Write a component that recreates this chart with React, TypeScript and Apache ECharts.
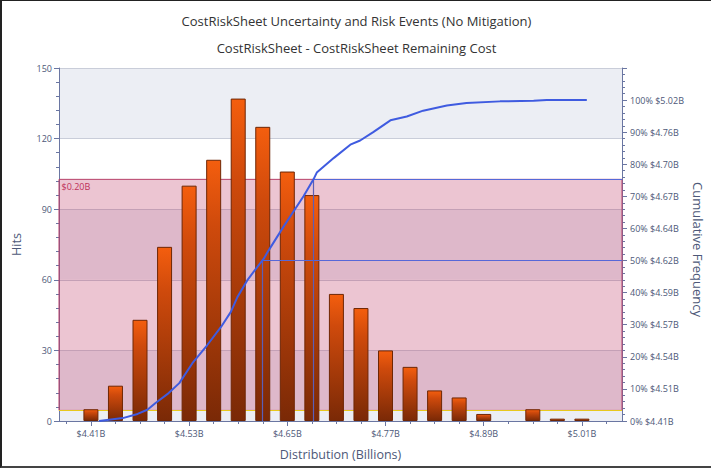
import React, { useEffect, useRef } from "react";
import * as echarts from "echarts";

// Histogram bins (billions) and hit counts per bin (1000 iterations)
const binCenters = [4.41, 4.44, 4.47, 4.5, 4.53, 4.56, 4.59, 4.62, 4.65, 4.68, 4.71, 4.74, 4.77, 4.8, 4.83, 4.86, 4.89, 4.92, 4.95, 4.98, 5.01];
const hits = [5, 15, 43, 74, 100, 111, 137, 125, 106, 96, 54, 48, 30, 23, 13, 10, 3, 0, 5, 1, 1];

// Cumulative frequency curve: [value in billions, percent]
const cumulative: [number, number][] = [
  [4.42, 0], [4.449, 0.9], [4.467, 2.2], [4.479, 3.5], [4.489, 5.6], [4.505, 8.7],
  [4.518, 11.8], [4.534, 18], [4.552, 23.6], [4.569, 29.3], [4.581, 34], [4.589, 38.6],
  [4.601, 43.8], [4.613, 47.9], [4.621, 50.5], [4.627, 53.1], [4.646, 60.8], [4.67, 70.1],
  [4.682, 75.3], [4.686, 77.4], [4.707, 82], [4.727, 86.1], [4.739, 87.4], [4.755, 90],
  [4.776, 93.7], [4.796, 94.9], [4.816, 96.7], [4.845, 98.3], [4.869, 99.1], [4.91, 99.6],
  [4.951, 99.8], [4.967, 100], [5.016, 100],
];

// Axis tick labels
const xTickValues = [4.41, 4.53, 4.65, 4.77, 4.89, 5.01];
const percentTicks = [0, 10, 20, 30, 40, 50, 60, 70, 80, 90, 100];
const percentileValues = ["$4.41B", "$4.51B", "$4.54B", "$4.57B", "$4.59B", "$4.62B", "$4.64B", "$4.67B", "$4.70B", "$4.76B", "$5.02B"];

// Percentile markers and contingency band
const p50 = { value: 4.619, pct: 50 };
const p75 = { value: 4.682, pct: 75.3 };
const baseEstimatePct = 3.3;
const contingencyLabel = "$0.20B";

const X_MIN = 4.371;
const X_MAX = 5.059;

const FONT = "'Open Sans', 'Noto Sans', sans-serif";
const AXIS_TEXT = "#4d5878";
const AXIS_LINE = "#6a76a2";

export default function App() {
  const ref = useRef<HTMLDivElement>(null);

  useEffect(() => {
    if (!ref.current) return;
    const chart = echarts.init(ref.current, undefined, { renderer: "svg" });

    const minorXTicks: number[] = [];
    for (let i = -1; i <= 22; i++) {
      const v = Math.round((4.41 + i * 0.03) * 1000) / 1000;
      if (v > X_MIN && v < X_MAX) minorXTicks.push(v);
    }

    const barGradient = new echarts.graphic.LinearGradient(0, 0, 0, 1, [
      { offset: 0, color: "#f45e0e" },
      { offset: 0.25, color: "#cf4a0c" },
      { offset: 1, color: "#7a2906" },
    ]);

    chart.setOption({
      animation: false,
      backgroundColor: "#ffffff",
      textStyle: { fontFamily: FONT },
      title: [
        {
          text: "CostRiskSheet Uncertainty and Risk Events (No Mitigation)",
          left: "center",
          top: 8,
          textStyle: { fontSize: 13, fontWeight: "normal", color: "#333333", fontFamily: FONT },
        },
        {
          text: "CostRiskSheet - CostRiskSheet Remaining Cost",
          left: "center",
          top: 35,
          textStyle: { fontSize: 13, fontWeight: "normal", color: "#333333", fontFamily: FONT },
        },
      ],
      grid: { left: 57, right: 89, top: 67, bottom: 45, containLabel: false },
      xAxis: [
        {
          type: "value",
          min: X_MIN,
          max: X_MAX,
          name: "Distribution (Billions)",
          nameLocation: "middle",
          nameGap: 27,
          nameTextStyle: { color: AXIS_TEXT, fontSize: 12.5 },
          axisLine: { show: true, lineStyle: { color: AXIS_LINE } },
          axisTick: { show: true, length: 5, customValues: xTickValues, lineStyle: { color: AXIS_LINE } },
          axisLabel: {
            customValues: xTickValues,
            color: AXIS_TEXT,
            fontSize: 9,
            margin: 8,
            formatter: (v: number) => "$" + v.toFixed(2) + "B",
          },
          splitLine: { show: false },
        },
        {
          type: "value",
          min: X_MIN,
          max: X_MAX,
          position: "bottom",
          axisLine: { show: false },
          axisTick: { show: true, length: 3, customValues: minorXTicks, lineStyle: { color: AXIS_LINE } },
          axisLabel: { show: false },
          splitLine: { show: false },
        },
      ],
      yAxis: [
        {
          type: "value",
          min: 0,
          max: 150,
          interval: 30,
          name: "Hits",
          nameLocation: "middle",
          nameGap: 36,
          nameTextStyle: { color: AXIS_TEXT, fontSize: 12.5 },
          axisLine: { show: true, lineStyle: { color: AXIS_LINE } },
          axisTick: { show: true, length: 5, lineStyle: { color: AXIS_LINE } },
          minorTick: { show: true, splitNumber: 5, length: 3, lineStyle: { color: AXIS_LINE } },
          axisLabel: { color: AXIS_TEXT, fontSize: 9, margin: 7 },
          splitLine: { show: true, lineStyle: { color: "#c9cdd9", width: 1 } },
          splitArea: { show: true, areaStyle: { color: ["#eceef4", "#ffffff"] } },
        },
        {
          type: "value",
          min: 0,
          max: 110,
          interval: 10,
          position: "right",
          axisLine: { show: true, lineStyle: { color: AXIS_LINE } },
          axisTick: { show: true, length: 5, lineStyle: { color: AXIS_LINE } },
          minorTick: { show: true, splitNumber: 5, length: 3, lineStyle: { color: AXIS_LINE } },
          axisLabel: {
            color: AXIS_TEXT,
            fontSize: 9,
            margin: 8,
            formatter: (v: number) => {
              const i = percentTicks.indexOf(Math.round(v));
              return i >= 0 ? `${percentTicks[i]}% ${percentileValues[i]}` : "";
            },
          },
          splitLine: { show: false },
        },
      ],
      graphic: [
        {
          type: "text",
          left: 689,
          top: 181,
          rotation: -Math.PI / 2,
          style: { text: "Cumulative Frequency", fill: AXIS_TEXT, fontSize: 13, fontFamily: FONT },
        },
      ],
      series: [
        {
          // contingency band and base estimate line, kept beneath the bars
          type: "line",
          xAxisIndex: 0,
          yAxisIndex: 1,
          data: [],
          z: 1,
          markArea: {
            silent: true,
            z: 1,
            itemStyle: { color: "rgba(185, 40, 90, 0.27)", borderColor: "#b8406a", borderWidth: 1 },
            label: {
              show: true,
              position: "insideTopLeft",
              distance: 3,
              color: "#c0305a",
              fontSize: 9,
              fontFamily: FONT,
              formatter: contingencyLabel,
            },
            data: [[{ xAxis: X_MIN, yAxis: baseEstimatePct }, { xAxis: X_MAX, yAxis: p75.pct }]],
          },
          markLine: {
            silent: true,
            z: 1,
            symbol: "none",
            label: { show: false },
            lineStyle: { type: "solid", width: 1.2, color: "#e8c81c" },
            data: [[{ coord: [X_MIN, baseEstimatePct] }, { coord: [X_MAX, baseEstimatePct] }]],
          },
        },
        {
          type: "bar",
          xAxisIndex: 0,
          yAxisIndex: 0,
          barWidth: 15,
          data: binCenters.map((x, i) => [x, hits[i]]).filter((d) => d[1] > 0),
          itemStyle: { color: barGradient, borderColor: "#6e2605", borderWidth: 1 },
          z: 3,
        },
        {
          type: "line",
          xAxisIndex: 0,
          yAxisIndex: 1,
          data: cumulative,
          showSymbol: false,
          symbol: "none",
          lineStyle: { color: "#3f5be0", width: 2 },
          z: 5,
          markLine: {
            silent: true,
            symbol: "none",
            label: { show: false },
            lineStyle: { type: "solid", width: 1.2 },
            data: [
              [{ coord: [p50.value, 0], lineStyle: { color: "#5a5fb8" } }, { coord: [p50.value, p50.pct] }],
              [{ coord: [p50.value, p50.pct], lineStyle: { color: "#5668d8" } }, { coord: [X_MAX, p50.pct] }],
              [{ coord: [p75.value, 0], lineStyle: { color: "#5a5fb8" } }, { coord: [p75.value, p75.pct] }],
              [{ coord: [p75.value, p75.pct], lineStyle: { color: "#5668d8" } }, { coord: [X_MAX, p75.pct] }],
            ],
          },
        },
      ],
    });

    return () => chart.dispose();
  }, []);

  return (
    <div
      style={{
        position: "absolute",
        left: 0,
        top: 0,
        width: 711,
        height: 468,
        boxSizing: "border-box",
        borderTop: "1px solid #222",
        borderLeft: "2px solid #222",
        borderBottom: "2px solid #444",
        background: "#fff",
      }}
    >
      <div ref={ref} style={{ width: 709, height: 465 }} />
    </div>
  );
}
